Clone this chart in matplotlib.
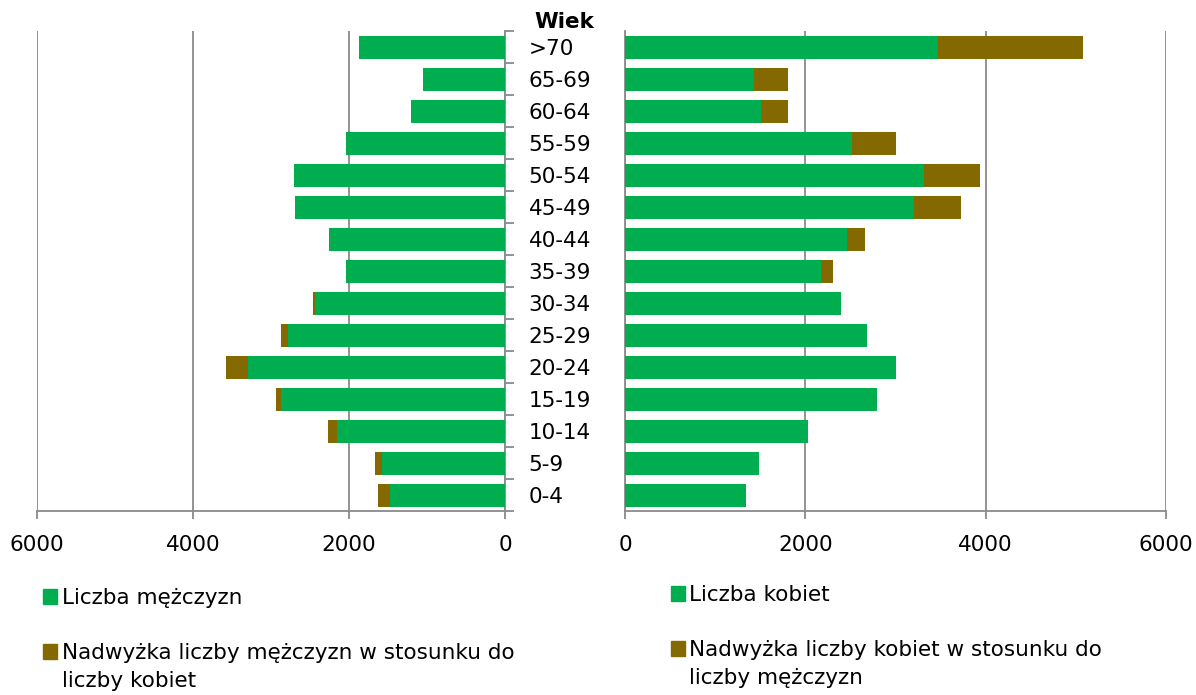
import numpy as np
import matplotlib
matplotlib.use("Agg")
from matplotlib import pyplot as plt
from matplotlib.patches import Patch

# age groups, bottom to top
ages = ["0-4", "5-9", "10-14", "15-19", "20-24", "25-29", "30-34", "35-39",
        "40-44", "45-49", "50-54", "55-59", "60-64", "65-69", ">70"]

men = [1480, 1580, 2155, 2875, 3300, 2780, 2440, 2040,
       2260, 2690, 2710, 2040, 1200, 1050, 1870]
men_excess = [150, 85, 115, 65, 275, 90, 20, 0,
              0, 0, 0, 0, 0, 0, 0]

women = [1340, 1490, 2030, 2800, 3010, 2680, 2400, 2170,
         2460, 3200, 3320, 2520, 1510, 1430, 3470]
women_excess = [0, 0, 0, 0, 0, 0, 0, 135,
                200, 530, 620, 480, 300, 375, 1605]

ticks = [0, 2000, 4000, 6000]

legend_left = ["Liczba mężczyzn", "Nadwyżka liczby mężczyzn w stosunku do"]
legend_left_cont = "liczby kobiet"
legend_right = ["Liczba kobiet", "Nadwyżka liczby kobiet w stosunku do"]
legend_right_cont = "liczby mężczyzn"

green = "#00AE50"
brown = "#846900"
grey = "#8A8A8A"
fs = 15.5

plt.rcParams["font.family"] = "DejaVu Sans"

fig = plt.figure(figsize=(11.96, 6.95), dpi=100)
axL = fig.add_axes([0.0309, 0.2647, 0.3913, 0.6906])
axR = fig.add_axes([0.5226, 0.2647, 0.4523, 0.6906])

y = np.arange(len(ages))
h = 0.72

# left panel - men
axL.barh(y, men, height=h, color=green, zorder=3)
axL.barh(y, men_excess, left=men, height=h, color=brown, zorder=3)
axL.set_xlim(6000, 0)
axL.set_ylim(-0.5, len(ages) - 0.5)
axL.set_xticks(ticks)
axL.set_xticklabels([str(t) for t in ticks])
axL.yaxis.tick_right()
axL.set_yticks(y)
axL.set_yticklabels(ages)
axL.set_yticks(np.arange(-0.5, len(ages)), minor=True)
axL.tick_params(axis="y", which="major", length=0, pad=17, labelsize=fs)
axL.tick_params(axis="y", which="minor", length=6.5, width=1.3, color=grey, direction="out")
axL.spines["left"].set_visible(False)
axL.spines["top"].set_visible(False)
axL.spines["right"].set_color(grey)
axL.spines["right"].set_linewidth(1.3)

# right panel - women
axR.barh(y, women, height=h, color=green, zorder=3)
axR.barh(y, women_excess, left=women, height=h, color=brown, zorder=3)
axR.set_xlim(0, 6000)
axR.set_ylim(-0.5, len(ages) - 0.5)
axR.set_xticks(ticks)
axR.set_xticklabels([str(t) for t in ticks])
axR.set_yticks([])
axR.spines["right"].set_visible(False)
axR.spines["top"].set_visible(False)
axR.spines["left"].set_color(grey)
axR.spines["left"].set_linewidth(1.3)

for ax in (axL, axR):
    ax.grid(axis="x", color=grey, linewidth=1.3, zorder=0)
    ax.spines["bottom"].set_color(grey)
    ax.spines["bottom"].set_linewidth(1.3)
    ax.tick_params(axis="x", length=6, width=1.3, color=grey, pad=11, labelsize=fs)

fig.text(0.4715, 0.968, "Wiek", ha="center", va="center", fontsize=fs, fontweight="bold")

leg_kw = dict(loc="upper left", frameon=False, fontsize=fs, handlelength=0.66,
              handleheight=0.66, handletextpad=0.2, labelspacing=1.62,
              borderpad=0, borderaxespad=0)
legL = fig.legend(handles=[Patch(color=green), Patch(color=brown)],
                  labels=legend_left, bbox_to_anchor=(0.036, 0.154), **leg_kw)
legR = fig.legend(handles=[Patch(color=green), Patch(color=brown)],
                  labels=legend_right, bbox_to_anchor=(0.561, 0.158), **leg_kw)

# second line of the long legend entries, under the first line
fig.canvas.draw()
inv = fig.transFigure.inverted()
for leg, cont in ((legL, legend_left_cont), (legR, legend_right_cont)):
    bb = leg.get_texts()[1].get_window_extent()
    x0, y0 = inv.transform((bb.x0, bb.y0 - 28))
    fig.text(x0, y0, cont, fontsize=fs, ha="left", va="bottom")

fig.savefig("out.png", dpi=100)
